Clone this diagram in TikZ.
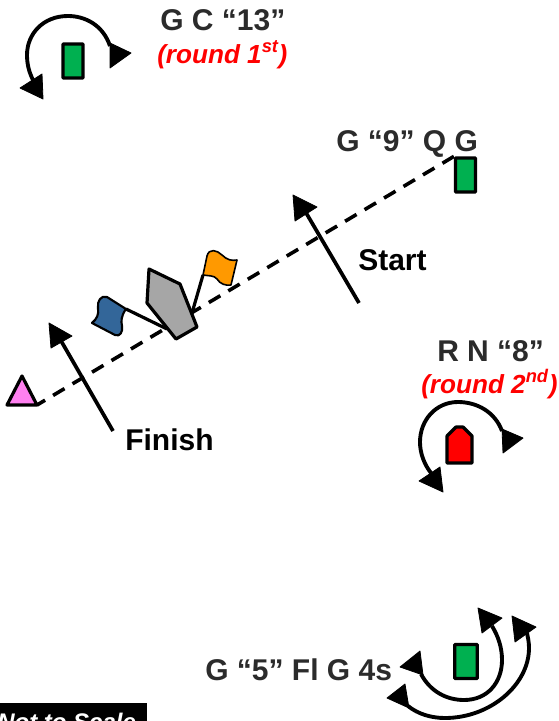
\documentclass[tikz,border=0pt]{standalone}
\usepackage{fontspec}
\setmainfont{Liberation Sans}
\definecolor{txtgrey}{HTML}{2B2B2B}
\definecolor{buoygreen}{HTML}{00B050}
\definecolor{pinktri}{HTML}{FF80F0}
\definecolor{boatgrey}{HTML}{A6A6A6}
\definecolor{flagblue}{HTML}{336699}
\definecolor{flagorange}{HTML}{FF9900}
\tikzset{
  x=0.75pt,y=-0.75pt,
  label text/.style={inner sep=0pt,anchor=base west,text=txtgrey,font=\bfseries\fontsize{22.5pt}{26pt}\selectfont},
  plain label/.style={label text,text=black,font=\bfseries\fontsize{22.5pt}{26pt}\selectfont},
  round text/.style={inner sep=0pt,anchor=base west,text=red,font=\bfseries\itshape\fontsize{19.6pt}{24pt}\selectfont},
  buoy/.style={draw=black,line width=2.4pt,fill=buoygreen,rounded corners=0.5pt,inner sep=0pt,minimum width=15pt,minimum height=25.5pt},
  curve/.style={draw=black,line width=2.9pt},
  head/.style={fill=black,draw=black,line width=0.6pt,line join=round},
  outline/.style={draw=black,line width=2.4pt,line join=round},
  course/.style={draw=black,line width=2.7pt,dash pattern=on 10pt off 7pt},
  pointer/.style={draw=black,line width=2.8pt},
}
\begin{document}
\begin{tikzpicture}
\useasboundingbox (0,0) rectangle (558,721);
\fill[white] (0,0) rectangle (558,721);

% marks
\node[buoy] (gc) at (73,61) {};
\node[buoy] (gq) at (465.5,175) {};
\node[buoy,minimum width=17pt,minimum height=25.5pt] (gfl) at (466,661.5) {};
\coordinate (triL) at (7,405);
\coordinate (triR) at (37,405);
\coordinate (triT) at (22,376);

% course line
\draw[course] (gq.north west) -- (triR);

% triangle mark
\draw[outline,fill=pinktri] (triL) -- (triT) -- (triR) -- cycle;

% flags and boat
\draw[outline] (167,329) -- (126,309);
\draw[outline,fill=flagblue,line width=1.6pt] (107,297) -- (126,309)
  .. controls (121,316) and (121,321) .. (122,326)
  .. controls (123,332) and (120,337) .. (115,335)
  -- (92,323)
  .. controls (97,319) and (99,314) .. (98,308)
  .. controls (97,301) and (101,295) .. (107,297) -- cycle;
\draw[outline] (192,313) -- (203,275);
\draw[outline,fill=flagorange,line width=1.2pt] (203,275)
  -- (207,256) .. controls (209,248) and (217,250) .. (222,255)
  .. controls (227,260) and (232,261) .. (237,260)
  -- (231,285)
  .. controls (226,286) and (220,284) .. (217,279)
  .. controls (214,275) and (208,276) .. (203,275) -- cycle;
\draw[outline,fill=boatgrey] (149,269) -- (180,284) -- (197,327) -- (176,339) -- (147,303) -- cycle;

% start and finish pointers
\coordinate (startTail) at (359,303);
\coordinate (startTip) at (305,211);
\coordinate (finishTail) at (113,431);
\coordinate (finishTip) at (60,339);
\draw[pointer] (startTail) -- (startTip);
\fill[head] (293,195) -- (317,207) -- (295,221) -- cycle;
\draw[pointer] (finishTail) -- (finishTip);
\fill[head] (49,323) -- (72,336) -- (51,348) -- cycle;

% top-left rounding
\draw[curve] (110,46) .. controls (103,25) and (85,16) .. (68,16)
  .. controls (43,16) and (27,34) .. (27,55)
  .. controls (27,64) and (29,72) .. (33,80);
\fill[head] (110,43) -- (131,53) -- (110,68) -- cycle;
\fill[head] (20,88) -- (42,74) -- (43,99) -- cycle;

% red nun
\node[inner sep=0pt,minimum size=0pt] (rn) at (459.5,444.5) {};
\draw[outline,fill=red] (447,463) -- (447,436) -- (456,427) -- (463,427) -- (472,436) -- (472,463) -- cycle;
\draw[curve] (502,431) .. controls (495,412) and (477,402) .. (458,402)
  .. controls (436,402) and (420,420) .. (420,442)
  .. controls (420,453) and (424,464) .. (431,473);
\fill[head] (502,429) -- (523,438) -- (503,453) -- cycle;
\fill[head] (419,481) -- (440,467) -- (443,492) -- cycle;

% flashing green: two roundings
\draw[curve] (421,674) .. controls (430,691) and (446,700) .. (464,700)
  .. controls (488,700) and (502,682) .. (502,660)
  .. controls (502,647) and (498,636) .. (492,626);
\fill[head] (478,608) -- (502,618) -- (482,633) -- cycle;
\fill[head] (400,667) -- (420,651) -- (423,675) -- cycle;
\draw[curve] (408,706) .. controls (418,714) and (431,718) .. (445,718)
  .. controls (490,718) and (529,685) .. (529,648)
  .. controls (529,642) and (528,638) .. (527,633);
\fill[head] (512,616) -- (536,627) -- (515,642) -- cycle;
\fill[head] (387,698) -- (405,684) -- (409,708) -- cycle;

% labels
\node[label text] (tgc) at (160,31) {G C “13”};
\node[round text] (tr1) at (157,63) {(round 1\textsuperscript{st})};
\node[label text] (tgq) at (336,151) {G “9” Q G};
\node[plain label] (tst) at (358,270) {Start};
\node[plain label] (tfi) at (125,450) {Finish};
\node[label text] (trn) at (437,361) {R N “8”};
\node[round text] (tr2) at (421,393) {(round 2\textsuperscript{nd})};
\node[label text] (tfl) at (205,680) {G “5” Fl G 4s};

% not to scale
\begin{scope}
\clip (0,703) rectangle (147,721);
\fill[black] (0,703) rectangle (147,721);
\node[inner sep=0pt,anchor=base west,text=white,font=\bfseries\itshape\fontsize{18pt}{22pt}\selectfont] (nts) at (-3,730) {Not to Scale};
\end{scope}
\end{tikzpicture}
\end{document}
